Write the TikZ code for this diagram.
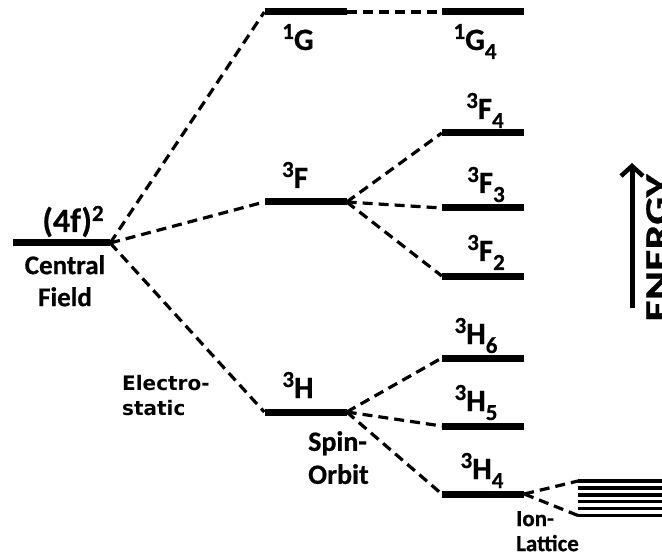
\documentclass[tikz,border=0pt]{standalone}
\usepackage{fontspec}
\setmainfont{Carlito}[BoldFeatures={FakeBold=0.6}]
\newfontfamily\dejavu{DejaVu Sans}
\usetikzlibrary{arrows.meta}

\newcommand{\levsup}[1]{\raisebox{11pt}{\fontsize{23}{23}\selectfont #1}}
\newcommand{\levsub}[1]{\raisebox{-9pt}{\fontsize{23}{23}\selectfont #1}}

\begin{document}
\begin{tikzpicture}[
    x=1pt, y=-1pt,
    level/.style={rectangle, fill=black, inner sep=0pt, minimum width=82pt, minimum height=7pt},
    fine/.style={rectangle, fill=black, inner sep=0pt, minimum width=92pt, minimum height=3.4pt},
    split/.style={line width=3.2pt, dash pattern=on 10pt off 6pt},
    term/.style={font=\fontsize{31}{36}\selectfont\bfseries, inner sep=0pt, anchor=base},
    note/.style={font=\fontsize{27}{32}\selectfont\bfseries, inner sep=0pt, anchor=north}
]
    \useasboundingbox (0,0) rectangle (662,559);

    % Levels
    \node (cf) [level, minimum width=97pt] at (61.5, 243) {};
    \node (G)  [level] at (305.5, 12) {};
    \node (F)  [level] at (305.5, 202) {};
    \node (H)  [level] at (305.5, 412) {};
    \node (G4) [level] at (483, 12) {};
    \node (F4) [level] at (483, 133) {};
    \node (F3) [level] at (483, 208) {};
    \node (F2) [level] at (483, 276) {};
    \node (H6) [level] at (483, 358) {};
    \node (H5) [level] at (483, 426) {};
    \node (H4) [level] at (483, 494) {};

    % Ion-lattice sublevels
    \foreach \i in {1,...,6}
        \node (lat\i) [fine, anchor=west] at (578, 474.1+6.9*\i) {};

    % Level labels
    \node (cfname) [term, font=\fontsize{34}{36}\selectfont\bfseries] at (73, 232) {(4f)\levsup{2}};
    \node (Gname)  [term] at (298, 50) {\levsup{1}G};
    \node (G4name) [term] at (475, 50) {\levsup{1}G\levsub{4}};
    \node (Fname)  [term] at (295, 188) {\levsup{3}F};
    \node (F4name) [term] at (485, 119) {\levsup{3}F\levsub{4}};
    \node (F3name) [term] at (486, 193) {\levsup{3}F\levsub{3}};
    \node (F2name) [term] at (486, 261) {\levsup{3}F\levsub{2}};
    \node (Hname)  [term] at (298, 398) {\levsup{3}H};
    \node (H6name) [term] at (476, 344) {\levsup{3}H\levsub{6}};
    \node (H5name) [term] at (476, 411) {\levsup{3}H\levsub{5}};
    \node (H4name) [term] at (482, 479) {\levsup{3}H\levsub{4}};

    % Interaction labels
    \node (central) [note, align=center] at (65, 255) {Central\\Field};
    \node (elec) [note, font=\dejavu\fontsize{20}{25}\selectfont\bfseries, align=left, anchor=north west] at (122, 375) {Electro-\\static};
    \node (spin) [note, font=\fontsize{28}{33}\selectfont\bfseries, align=left, anchor=north west] at (308, 431) {Spin-\\Orbit};
    \node (ion) [note, font=\fontsize{23}{25}\selectfont\bfseries, align=left, anchor=north west] at (516, 511) {Ion-\\Lattice};

    % Splittings
    \draw [split] (cf.east) -- (G.west);
    \draw [split] (cf.east) -- (F.west);
    \draw [split] (cf.east) -- (H.west);
    \draw [split] (G.east) -- (G4.west);
    \draw [split] (F.east) -- (F4.west);
    \draw [split] (F.east) -- (F3.west);
    \draw [split] (F.east) -- (F2.west);
    \draw [split] (H.east) -- (H6.west);
    \draw [split] (H.east) -- (H5.west);
    \draw [split] (H.east) -- (H4.west);
    \draw [split] (H4.east) -- (lat1.west);
    \draw [split] (H4.east) -- (lat6.west);

    % Energy axis
    \coordinate (elow) at (632, 308);
    \coordinate (ehigh) at (632, 163);
    \draw [line width=5pt, -{Straight Barb[length=10pt, width=22pt, line width=4.5pt]}] (elow) -- (ehigh);
    \node (energy) [rotate=90, anchor=north, inner sep=0pt, font=\fontsize{34}{34}\selectfont\bfseries] at (646, 248) {\scalebox{1.3}[1]{ENERGY}};
\end{tikzpicture}
\end{document}
